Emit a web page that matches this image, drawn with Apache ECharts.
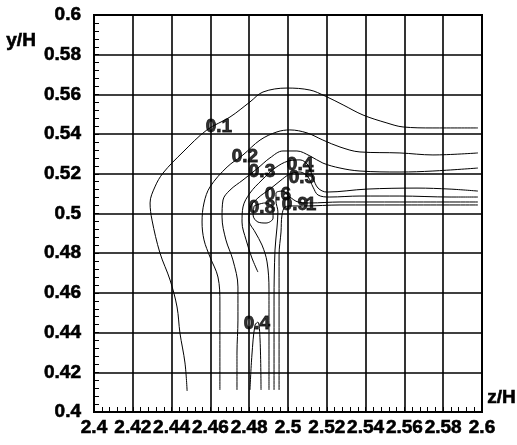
<!DOCTYPE html>
<html>
<head>
<meta charset="utf-8">
<script src="https://cdn.jsdelivr.net/npm/echarts@6/dist/echarts.min.js"></script>
<style>
html,body{margin:0;padding:0;background:#fff;}
#chart{width:517px;height:445px;}
</style>
</head>
<body>
<div id="chart"></div>
<script>
// Tick labels
var xTickLabels = ['2.4','2.42','2.44','2.46','2.48','2.5','2.52','2.54','2.56','2.58','2.6'];
var yTickLabels = ['0.4','0.42','0.44','0.46','0.48','0.5','0.52','0.54','0.56','0.58','0.6'];

// Contour lines [z/H, y/H]
var c01 = [[2.448,0.4106],[2.4469,0.4247],[2.4443,0.4398],[2.4428,0.4529],[2.4392,0.4665],[2.434,0.4801],[2.4299,0.4967],[2.4289,0.5053],[2.4314,0.5134],[2.4356,0.5204],[2.4459,0.531],[2.4582,0.5421],[2.4701,0.5486],[2.4804,0.5562],[2.4871,0.5612],[2.4995,0.5632],[2.5113,0.5622],[2.5191,0.5592],[2.5284,0.5547],[2.5387,0.5496],[2.551,0.5456],[2.5593,0.5436],[2.5747,0.5431],[2.5979,0.5431]];
var c02 = [[2.4649,0.4111],[2.4649,0.4378],[2.4649,0.4549],[2.4639,0.468],[2.4598,0.4781],[2.4567,0.4867],[2.4557,0.4957],[2.4567,0.5053],[2.4598,0.5134],[2.4686,0.5234],[2.4768,0.5295],[2.4856,0.537],[2.4943,0.5411],[2.501,0.5421],[2.5098,0.5406],[2.518,0.537],[2.5268,0.5335],[2.5371,0.531],[2.5577,0.5305],[2.5747,0.5295],[2.5979,0.5305]];
var c03 = [[2.4737,0.4111],[2.4737,0.4297],[2.4742,0.4463],[2.4742,0.463],[2.4716,0.4766],[2.468,0.4867],[2.466,0.4982],[2.4665,0.5068],[2.4701,0.5118],[2.4768,0.5169],[2.4845,0.5229],[2.4907,0.528],[2.4974,0.5315],[2.5046,0.5315],[2.5113,0.529],[2.518,0.5254],[2.5268,0.5229],[2.5371,0.5214],[2.5577,0.5209],[2.5747,0.5214],[2.5979,0.5229]];
var c04a = [[2.5979,0.5113],[2.5835,0.5123],[2.5665,0.5128],[2.5407,0.5123],[2.5201,0.5108],[2.5155,0.5128],[2.5129,0.5179],[2.5103,0.5244],[2.5062,0.527],[2.5,0.5264],[2.4933,0.5229],[2.4866,0.5169],[2.4804,0.5103],[2.4768,0.5033],[2.4763,0.4957],[2.4784,0.4867],[2.4814,0.4776],[2.4845,0.4705]];
var c04b = [[2.4804,0.4111],[2.4814,0.4287],[2.483,0.4438],[2.4845,0.4453],[2.4856,0.4363],[2.4861,0.4111]];
var c05 = [[2.5979,0.5083],[2.5835,0.5083],[2.5577,0.5088],[2.5371,0.5088],[2.5216,0.5083],[2.5155,0.5093],[2.5129,0.5133],[2.5103,0.5184],[2.5062,0.5209],[2.501,0.5199],[2.4959,0.5164],[2.4907,0.5123],[2.4845,0.5078],[2.4804,0.5028],[2.4799,0.4967],[2.483,0.4907],[2.4866,0.4841],[2.4892,0.4756],[2.4902,0.4615],[2.4902,0.4111]];
var c06 = [[2.5979,0.5058],[2.5577,0.5058],[2.5268,0.5058],[2.5113,0.5053],[2.5052,0.5058],[2.501,0.5083],[2.4974,0.5113],[2.4938,0.5103],[2.4938,0.5063],[2.4948,0.5008],[2.4943,0.4927],[2.4933,0.4816],[2.4928,0.4564],[2.4928,0.4111]];
var c07 = [[2.4825,0.5038],[2.482,0.4992],[2.4845,0.4957],[2.4887,0.4952],[2.4923,0.4977],[2.4923,0.5028],[2.4881,0.5053],[2.4825,0.5038]];
var c08 = [[2.5979,0.5043],[2.5577,0.5043],[2.5268,0.5043],[2.5088,0.5038],[2.5021,0.5038],[2.4985,0.5033],[2.4969,0.4992],[2.4964,0.4907],[2.4954,0.4791],[2.4954,0.4564],[2.4954,0.4111]];
var contours = [c01, c02, c03, c04a, c04b, c05, c06, c07, c08];

// Contour level labels
var labelTexts = ['0.1','0.2','0.3','0.4','0.5','0.6','0.8','0.9','1','0.4'];
var labelPos = [[2.4644,0.5436],[2.4778,0.5285],[2.4866,0.5209],[2.5062,0.5244],[2.5072,0.5179],[2.4948,0.5093],[2.4866,0.5028],[2.5036,0.5043],[2.5119,0.5043],[2.484,0.4443]];

var chart = echarts.init(document.getElementById('chart'), null, {renderer:'canvas'});
var FONT = 'Liberation Sans, Arial, sans-serif';
var series = contours.map(function(c){
  return {type:'line', data:c, smooth:0.35, showSymbol:false, symbol:'none', silent:true,
    lineStyle:{color:'#000', width:1}, z:3};
});
series.push({
  type:'scatter', symbolSize:0, silent:true, z:5,
  data: labelPos.map(function(p,i){return {value:p, name:labelTexts[i]};}),
  label:{show:true, position:'inside', formatter:function(p){return p.name;},
    color:'#000', fontWeight:'bold', fontSize:19, fontFamily:FONT,
    textBorderColor:'#000', textBorderWidth:0.8}
});

var axisLabelStyle = {color:'#000', fontWeight:'bold', fontSize:19, fontFamily:FONT,
  textBorderColor:'#000', textBorderWidth:0.6};

chart.setOption({
  animation:false,
  backgroundColor:'#fff',
  grid:{left:94, top:15, width:388, height:397, show:true, borderColor:'#000', borderWidth:2, backgroundColor:'transparent'},
  xAxis:{type:'value', min:2.4, max:2.6, interval:0.02,
    axisLine:{show:true, onZero:false, lineStyle:{color:'#000', width:2}},
    axisTick:{show:true, inside:true, length:5, lineStyle:{color:'#000'}},
    minorTick:{show:true, splitNumber:5, length:5, lineStyle:{color:'#000', width:1}},
    splitLine:{show:true, lineStyle:{color:'#000', width:1.6}},
    axisLabel:Object.assign({margin:6,
      formatter:function(v){return xTickLabels[Math.round((v-2.4)/0.02)];}}, axisLabelStyle)
  },
  yAxis:{type:'value', min:0.4, max:0.6, interval:0.02,
    axisLine:{show:true, onZero:false, lineStyle:{color:'#000', width:2}},
    axisTick:{show:true, inside:true, length:5, lineStyle:{color:'#000'}},
    minorTick:{show:true, splitNumber:5, length:5, lineStyle:{color:'#000', width:1}},
    splitLine:{show:true, lineStyle:{color:'#000', width:1.6}},
    axisLabel:Object.assign({margin:13, padding:[3,0,0,0],
      formatter:function(v){return yTickLabels[Math.round((v-0.4)/0.02)];}}, axisLabelStyle)
  },
  graphic:[
    {type:'text', left:6, top:31, style:{text:'y/H', fill:'#000', font:'bold 19px '+FONT, stroke:'#000', lineWidth:0.6}},
    {type:'text', left:487, top:388, style:{text:'z/H', fill:'#000', font:'bold 19px '+FONT, stroke:'#000', lineWidth:0.6}}
  ],
  series:series
});
</script>
</body>
</html>
